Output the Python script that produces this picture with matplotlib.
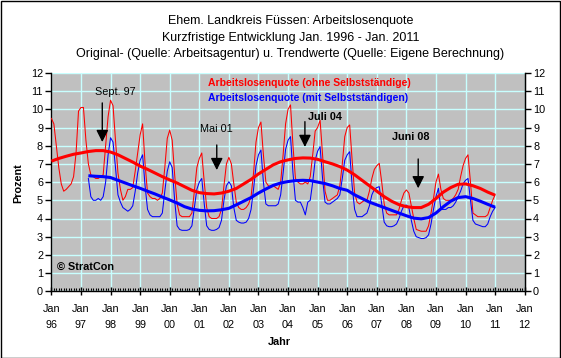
import matplotlib
matplotlib.use("Agg")
import matplotlib.pyplot as plt
import numpy as np
from matplotlib.ticker import MultipleLocator

plt.rcParams['font.family'] = ['Liberation Sans', 'DejaVu Sans']

# ---------------- data ----------------
# monthly raw values, red: "ohne Selbstständige", starting Jan 1996
red_1996 = [9.5, 9.2, 8.0, 6.8, 5.9, 5.5, 5.6, 5.75, 5.9, 6.3, 7.6, 9.9]
red_1997 = [10.1, 10.1, 8.3, 7.0, 6.4, 6.3, 6.2, 6.2, 6.3, 6.4, 8.0, 9.6]
red_1998 = [10.5, 10.2, 8.3, 6.5, 5.6, 5.0, 5.2, 5.6, 5.6, 5.7, 6.6, 7.6]
red_1999 = [8.6, 9.2, 7.0, 5.4, 5.2, 5.1, 5.1, 5.0, 5.1, 5.4, 6.8, 8.4]
red_2000 = [8.86, 8.3, 6.4, 4.8, 4.2, 4.1, 4.1, 4.1, 4.1, 4.3, 5.5, 6.8]
red_2001 = [7.3, 7.6, 6.0, 4.6, 4.1, 4.0, 4.0, 4.0, 4.1, 4.5, 5.8, 7.0]
red_2002 = [7.36, 7.0, 5.9, 4.9, 4.6, 4.5, 4.5, 4.6, 4.8, 5.2, 6.5, 8.2]
red_2003 = [9.0, 9.3, 7.5, 6.0, 5.8, 5.75, 5.8, 5.7, 5.6, 6.0, 7.5, 9.2]
red_2004 = [10.0, 10.24, 8.0, 6.2, 6.0, 5.9, 5.9, 6.0, 5.9, 6.3, 7.5, 8.8]
red_2005 = [9.0, 9.4, 7.5, 5.5, 5.0, 5.0, 5.1, 5.2, 5.3, 5.8, 7.0, 8.5]
red_2006 = [9.0, 9.14, 7.2, 5.4, 4.9, 4.8, 4.9, 5.0, 5.0, 5.5, 6.2, 6.7]
red_2007 = [6.9, 7.03, 6.0, 4.8, 4.3, 4.2, 4.2, 4.2, 4.2, 4.5, 5.0, 5.4]
red_2008 = [5.57, 5.4, 4.7, 4.0, 3.4, 3.35, 3.3, 3.3, 3.3, 3.6, 4.3, 5.1]
red_2009 = [6.0, 6.44, 5.6, 5.1, 5.0, 5.0, 5.0, 5.1, 5.3, 5.6, 6.3, 6.9]
red_2010 = [7.3, 7.5, 6.0, 4.3, 4.2, 4.1, 4.1, 4.1, 4.1, 4.2, 4.6, 5.0]
red_2011 = [5.3]

# monthly raw values, blue: "mit Selbstständigen", starting Apr 1997
blue_1997 = [6.2, 5.2, 5.0, 5.0, 5.1, 5.0, 5.2, 6.0, 7.5]
blue_1998 = [8.44, 8.2, 6.8, 5.3, 4.9, 4.6, 4.5, 4.4, 4.5, 4.7, 5.5, 6.5]
blue_1999 = [7.2, 7.5, 5.8, 4.5, 4.2, 4.1, 4.1, 4.1, 4.1, 4.3, 5.5, 6.6]
blue_2000 = [7.12, 6.8, 5.0, 3.6, 3.4, 3.35, 3.35, 3.35, 3.4, 3.6, 4.6, 5.6]
blue_2001 = [6.0, 6.2, 4.8, 3.6, 3.4, 3.35, 3.35, 3.4, 3.5, 3.9, 5.0, 5.8]
blue_2002 = [6.02, 5.8, 4.6, 3.9, 3.8, 3.75, 3.75, 3.8, 4.0, 4.5, 5.6, 6.9]
blue_2003 = [7.5, 7.76, 6.0, 4.8, 4.7, 4.7, 4.7, 4.7, 4.8, 5.3, 6.5, 7.8]
blue_2004 = [8.3, 8.5, 6.5, 5.0, 4.9, 4.9, 4.6, 4.2, 4.9, 5.0, 6.0, 7.2]
blue_2005 = [7.7, 7.95, 6.2, 4.9, 4.8, 4.8, 4.9, 5.0, 5.1, 5.3, 6.2, 7.2]
blue_2006 = [7.5, 7.67, 5.8, 4.5, 4.1, 4.1, 4.1, 4.2, 4.3, 4.7, 5.3, 5.6]
blue_2007 = [5.7, 5.75, 4.8, 3.8, 3.6, 3.55, 3.55, 3.6, 3.7, 4.0, 4.4, 4.7]
blue_2008 = [4.74, 4.6, 3.9, 3.3, 3.0, 2.95, 2.9, 2.9, 2.95, 3.1, 3.7, 4.5]
blue_2009 = [5.2, 5.66, 4.5, 4.5, 4.5, 4.6, 4.6, 4.7, 4.9, 5.2, 5.5, 5.9]
blue_2010 = [6.1, 6.2, 5.0, 3.9, 3.7, 3.65, 3.6, 3.55, 3.55, 3.7, 4.1, 4.4]
blue_2011 = [4.6]

# quarterly trend values, red from Jan 1996
red_trend = [7.15, 7.3, 7.42, 7.53, 7.6, 7.68, 7.73, 7.73, 7.65, 7.5, 7.3, 7.1,
             6.88, 6.7, 6.5, 6.3, 6.12, 5.95, 5.75, 5.55, 5.42, 5.37, 5.35, 5.4,
             5.5, 5.65, 5.9, 6.15, 6.45, 6.7, 6.95, 7.12, 7.22, 7.3, 7.33, 7.32,
             7.25, 7.12, 7.0, 6.85, 6.66, 6.4, 6.1, 5.8, 5.5, 5.2, 4.95, 4.76,
             4.65, 4.6, 4.6, 4.78, 5.1, 5.45, 5.7, 5.88, 5.9, 5.8, 5.65, 5.45, 5.28]
# quarterly trend values, blue from Apr 1997
blue_trend = [6.35, 6.32, 6.3, 6.25, 6.1, 5.95, 5.8, 5.66, 5.5, 5.35, 5.18,
              5.02, 4.85, 4.65, 4.52, 4.45, 4.42, 4.43, 4.48, 4.56, 4.75, 4.95,
              5.15, 5.4, 5.62, 5.82, 5.95, 6.03, 6.08, 6.1, 6.08, 6.0, 5.92, 5.8,
              5.65, 5.55, 5.3, 5.1, 4.9, 4.75, 4.6, 4.45, 4.3, 4.15, 4.02, 3.98,
              4.05, 4.3, 4.65, 4.95, 5.15, 5.2, 5.1, 4.95, 4.78, 4.62]

year_labels = ['96', '97', '98', '99', '00', '01', '02', '03', '04', '05',
               '06', '07', '08', '09', '10', '11', '12']

red_raw = (red_1996 + red_1997 + red_1998 + red_1999 + red_2000 + red_2001 +
           red_2002 + red_2003 + red_2004 + red_2005 + red_2006 + red_2007 +
           red_2008 + red_2009 + red_2010 + red_2011)
blue_raw = (blue_1997 + blue_1998 + blue_1999 + blue_2000 + blue_2001 +
            blue_2002 + blue_2003 + blue_2004 + blue_2005 + blue_2006 +
            blue_2007 + blue_2008 + blue_2009 + blue_2010 + blue_2011)

x_red = 1996 + np.arange(len(red_raw)) / 12.0
x_blue = 1997 + 3 / 12.0 + np.arange(len(blue_raw)) / 12.0
x_red_tr = 1996 + np.arange(len(red_trend)) * 0.25
x_blue_tr = 1997.25 + np.arange(len(blue_trend)) * 0.25

# ---------------- figure ----------------
W, H = 561, 358
fig = plt.figure(figsize=(W / 100, H / 100), dpi=100)
fig.patch.set_facecolor('white')

def fx(px):
    return px / W

def fy(py):
    return 1 - py / H

left, right, top, bottom = 51.4, 524.7, 72.9, 291.3
ax = fig.add_axes([fx(left), fy(bottom), fx(right) - fx(left), fy(top) - fy(bottom)])
ax.set_facecolor('#C0C0C0')
ax.set_xlim(1996, 2012)
ax.set_ylim(0, 12)

grid_c = '#C8FFFF'
ax.xaxis.set_minor_locator(MultipleLocator(1 / 12))
ax.grid(True, which='major', color=grid_c, lw=1.0)
ax.set_axisbelow(True)

ax.set_xticks(np.arange(1996, 2013))
ax.set_xticklabels(['Jan\n' + y for y in year_labels], fontsize=7.8, linespacing=1.75)
ax.set_yticks(range(0, 13))
ax.set_yticklabels([str(i) for i in range(13)], fontsize=7.8)

ax.spines['top'].set_visible(False)
for s in ['left', 'bottom', 'right']:
    ax.spines[s].set_color('black')
    ax.spines[s].set_linewidth(1.0)

ax.tick_params(axis='x', which='major', direction='inout', length=6, width=1, pad=6, colors='black')
ax.tick_params(axis='x', which='minor', direction='in', length=2.5, width=0.8, colors='black')
ax.tick_params(axis='y', which='major', direction='out', length=4, width=1, pad=2, colors='black')

ax2 = ax.twinx()
ax2.set_ylim(0, 12)
ax2.set_yticks(range(0, 13))
ax2.set_yticklabels([str(i) for i in range(13)], fontsize=7.8)
ax2.tick_params(axis='y', direction='out', length=4, width=1, pad=2, colors='black')
for s in ['top', 'left', 'bottom']:
    ax2.spines[s].set_visible(False)
ax2.spines['right'].set_color('black')

# lines
ax.plot(x_red, red_raw, color='#FF0000', lw=0.75, zorder=3)
ax.plot(x_blue, blue_raw, color='#0000FF', lw=0.75, zorder=3)
ax.plot(x_red_tr, red_trend, color='#FF0000', lw=2.2, zorder=4, solid_capstyle='butt')
ax.plot(x_blue_tr, blue_trend, color='#0000FF', lw=2.2, zorder=4, solid_capstyle='butt')

# annotations with arrows
arrows = [
    ('Sept. 97', 'normal', 1998.17, 10.93, 1997.72, 10.35, 8.2),
    ('Mai 01', 'normal', 2001.59, 8.9, 2001.59, 8.04, 6.66),
    ('Juli 04', 'bold', 2005.25, 9.56, 2004.57, 9.32, 7.93),
    ('Juni 08', 'bold', 2008.15, 8.46, 2008.40, 7.27, 5.66),
]
for txt, wt, tx, ty, axx, y0, y1 in arrows:
    ax.text(tx, ty, txt, fontsize=7.8, fontweight=wt, ha='center', va='center', zorder=6)
    ax.annotate('', xy=(axx, y1), xytext=(axx, y0),
                arrowprops=dict(arrowstyle='-|>', color='black', lw=1.0,
                                mutation_scale=18, shrinkA=0, shrinkB=0),
                zorder=6)

# legend-like texts
fig.text(fx(208), fy(83.3), 'Arbeitslosenquote (ohne Selbstständige)', color='#FF0000',
         fontsize=7.5, fontweight='bold', ha='left', va='center')
fig.text(fx(208), fy(98.3), 'Arbeitslosenquote (mit Selbstständigen)', color='#0000FF',
         fontsize=7.5, fontweight='bold', ha='left', va='center')

fig.text(fx(57), fy(267.3), '© StratCon', fontsize=7.8, fontweight='bold',
         ha='left', va='center')

# titles
title_lines = ['Ehem. Landkreis Füssen: Arbeitslosenquote',
               'Kurzfristige Entwicklung Jan. 1996 - Jan. 2011',
               'Original- (Quelle: Arbeitsagentur) u. Trendwerte (Quelle: Eigene Berechnung)']
for line, py in zip(title_lines, [21, 37.5, 54]):
    fig.text(fx(290.5), fy(py), line, fontsize=9, ha='center', va='center')

fig.text(fx(18), fy(183), 'Prozent', fontsize=7.8, fontweight='bold', rotation=90,
         ha='center', va='center')
fig.text(fx(279), fy(342), 'Jahr', fontsize=7.8, fontweight='bold', ha='center', va='center')

# figure border
fig.patches.append(plt.Rectangle((0.5 / W, 0.5 / H), 1 - 1.5 / W, 1 - 1.5 / H,
                                 transform=fig.transFigure, fill=False,
                                 edgecolor='black', lw=1.0))

fig.savefig('out.png', dpi=100, facecolor='white')
